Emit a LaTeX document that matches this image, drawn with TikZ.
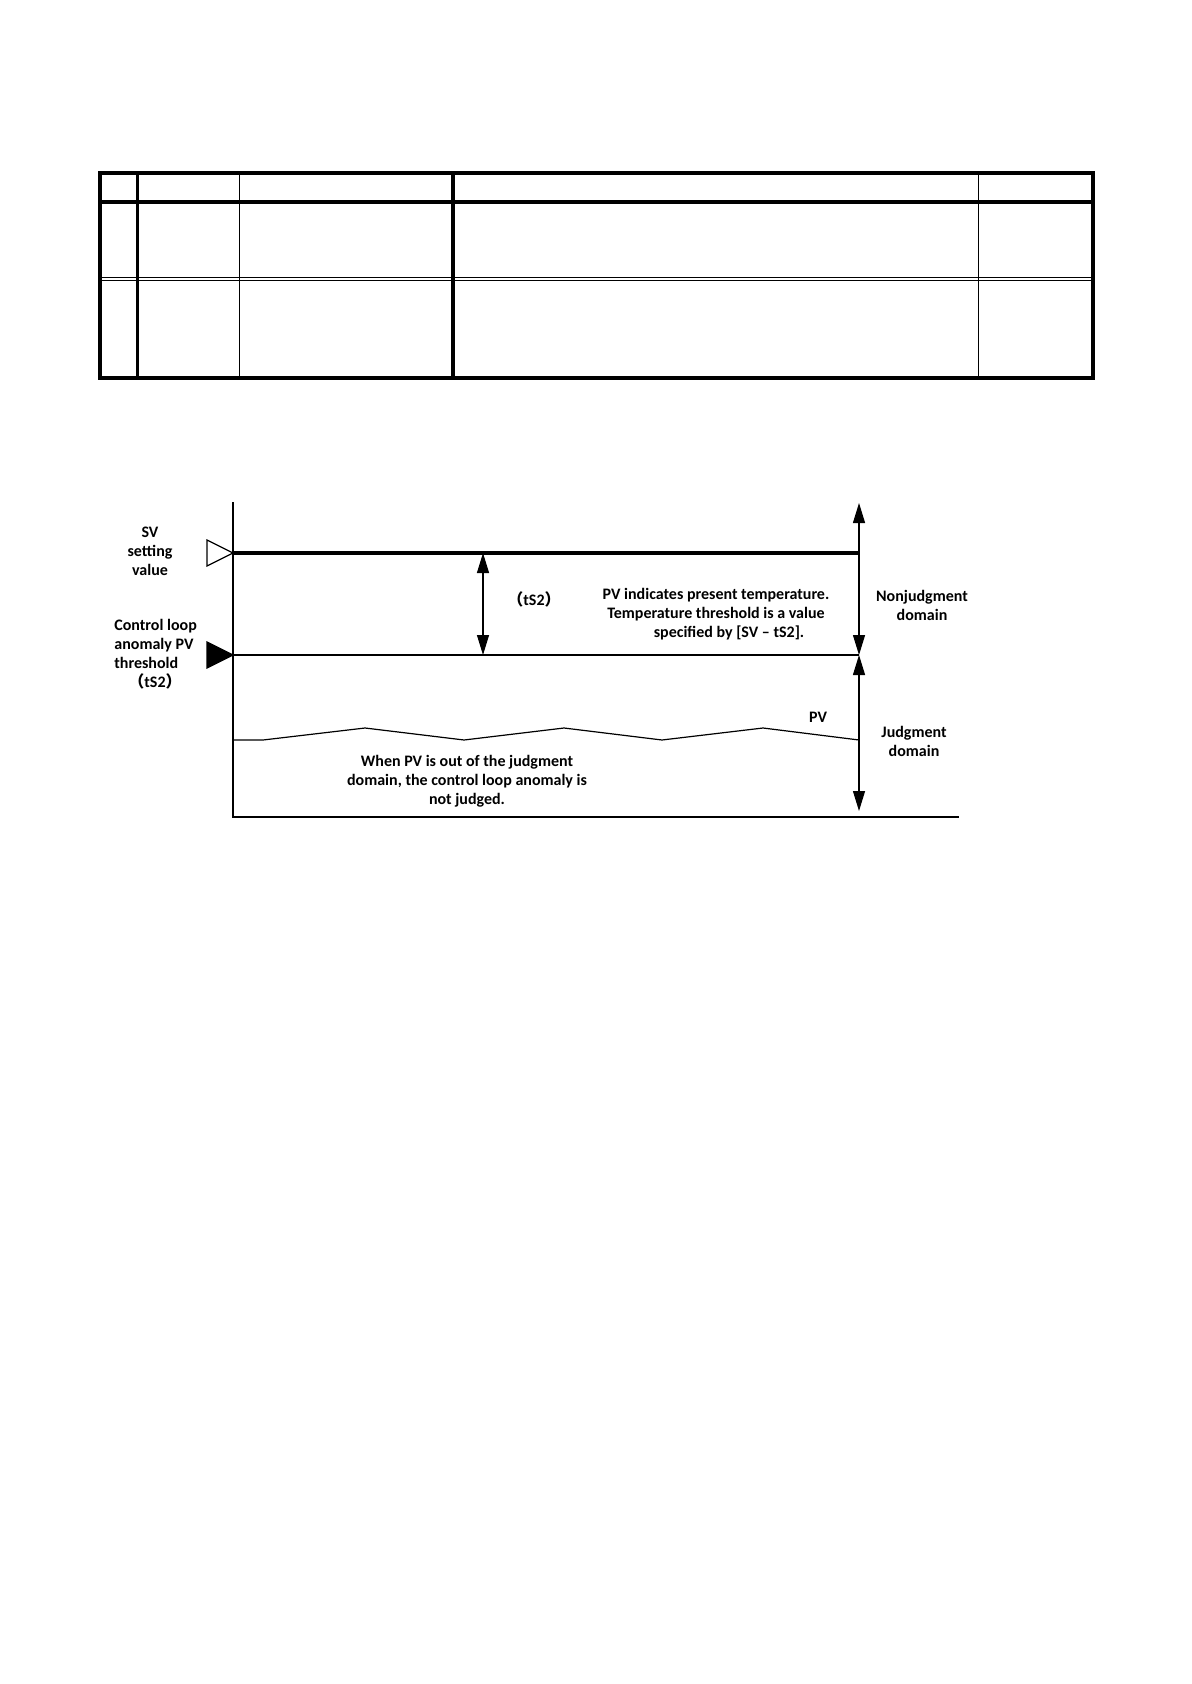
\documentclass[tikz,border=0pt]{standalone}
\usepackage{fontspec}
\setmainfont{Carlito}
\newfontfamily\cjk{Noto Sans CJK SC}
\usetikzlibrary{arrows.meta,positioning}
\newcommand{\pts}{{\cjk （}tS2{\cjk ）}}
\tikzset{
  lbl/.style      = {font=\bfseries\fontsize{8}{9.5}\selectfont, align=center, inner sep=0pt},
  tblheavy/.style = {line width=1.6pt},
  tbllight/.style = {line width=0.5pt},
  axisline/.style = {line width=0.7pt},
  svline/.style   = {line width=2pt},
  plainline/.style= {line width=0.6pt},
  sig/.style      = {{Triangle[length=10pt,width=6pt]}-{Triangle[length=10pt,width=6pt]}, line width=0.6pt},
}
\begin{document}
\begin{tikzpicture}[x=0.5pt,y=-0.5pt]
\useasboundingbox (0,0) rectangle (1191,1684);
% table
\draw[tbllight] (100,277.5) -- (1093,277.5) (100,280.5) -- (1093,280.5);
\draw[tbllight] (239.5,173) -- (239.5,378) (978,173) -- (978,378);
\draw[tblheavy] (100,202) -- (1093,202);
\draw[tblheavy] (137.5,173) -- (137.5,378) (453,173) -- (453,378);
\draw[tblheavy] (100,173) rectangle (1093,378);
% chart
\coordinate (org) at (233,817);
\coordinate (axtop) at (233,502);
\coordinate (axend) at (959,817);
\coordinate (svL) at (233,553);
\coordinate (svR) at (859,553);
\coordinate (thL) at (233,655);
\coordinate (thR) at (859,655);
\coordinate (dTop) at (483,553);
\coordinate (dBot) at (483,655);
\coordinate (rTop) at (859,503);
\coordinate (rBot) at (859,811);
\draw[axisline] (axtop) -- (org) -- (axend);
\draw[svline] (svL) -- (svR);
\draw[plainline] (thL) -- (thR);
\draw[plainline, fill=white] (svL) -- ++(-26,-13) -- ++(0,26) -- cycle;
\draw[plainline, fill=black] (thL) -- ++(-26,-13) -- ++(0,26) -- cycle;
\draw[sig] (dTop) -- (dBot);
\draw[sig] (rTop) -- (thR);
\draw[sig] (thR) -- (rBot);
% PV curve
\draw[plainline] (233,740) -- (263,740) -- (365,728) -- (464,740) -- (564,728)
  -- (662,740) -- (763,728) -- (859,740);
% labels
\node[lbl] (sv) at (150,551) {SV\\setting\\value};
\node[lbl, align=left, anchor=west] (ctl) at (114,654.5)
  {Control loop\\anomaly PV\\threshold\\\hspace*{7pt}\pts};
\node[lbl] (gap) at (534,599) {\pts};
\node[lbl] (note) at (716,614) {PV indicates present temperature.\\
  Temperature threshold is a value\\\hspace*{13pt}specified by [SV -- tS2].};
\node[lbl] (nonj) at (922,605.5) {Nonjudgment\\domain};
\node[lbl] (pvlbl) at (818,717) {PV};
\node[lbl] (judg) at (914,741) {Judgment\\domain};
\node[lbl] (when) at (467,781) {When PV is out of the judgment\\
  domain, the control loop anomaly is\\not judged.};
\end{tikzpicture}
\end{document}
